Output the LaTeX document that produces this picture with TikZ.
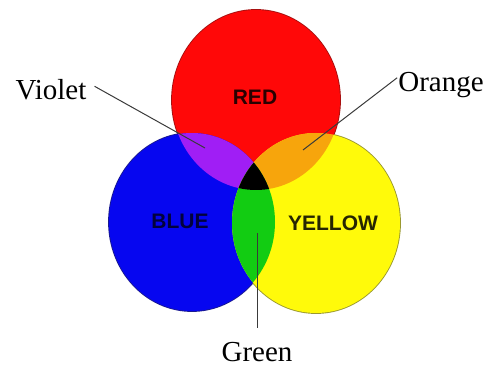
\documentclass[tikz,border=0pt]{standalone}
\usepackage{fontspec}
\setmainfont{Liberation Serif}
\newfontfamily\tagfont{Liberation Sans}
\usepackage{xcolor}
\usepackage{tikz}
\usetikzlibrary{positioning}
\definecolor{PrimRed}{HTML}{FF0808}
\definecolor{PrimBlue}{HTML}{0606F0}
\definecolor{PrimYellow}{HTML}{FFFA0A}
\definecolor{MixViolet}{HTML}{A01EF5}
\definecolor{MixOrange}{HTML}{F7A50C}
\definecolor{MixGreen}{HTML}{12CC12}
\definecolor{RedRim}{HTML}{A81010}
\definecolor{BlueRim}{HTML}{1A1A90}
\definecolor{YellowRim}{HTML}{9A9830}
\definecolor{LeadGray}{HTML}{3A3A3A}

\begin{document}
\begin{tikzpicture}[
    x=1pt, y=-1pt,
    callout/.style={inner sep=1pt, font=\fontsize{29}{30}\selectfont, text=black},
    tag/.style={inner sep=0pt, font=\tagfont\bfseries\fontsize{21}{21}\selectfont},
    leader/.style={line width=1pt, color=LeadGray},
    rim/.style={line width=1.8pt}
  ]
    \useasboundingbox (0,0) rectangle (493,366);

    % rims first, fills on top leave only the outer edge
    \draw[rim, draw=RedRim] (256,100) ellipse [x radius=84, y radius=90];
    \draw[rim, draw=BlueRim] (192,222) ellipse [x radius=83, y radius=89];
    \draw[rim, draw=YellowRim] (316,223) ellipse [x radius=84, y radius=90];
    \fill[PrimRed] (256,100) ellipse [x radius=84, y radius=90];
    \fill[PrimBlue] (192,222) ellipse [x radius=83, y radius=89];
    \fill[PrimYellow] (316,223) ellipse [x radius=84, y radius=90];

    \begin{scope}
      \clip (256,100) ellipse [x radius=84, y radius=90];
      \fill[MixViolet] (192,222) ellipse [x radius=83, y radius=89];
      \fill[MixOrange] (316,223) ellipse [x radius=84, y radius=90];
    \end{scope}
    \begin{scope}
      \clip (192,222) ellipse [x radius=83, y radius=89];
      \fill[MixGreen] (316,223) ellipse [x radius=84, y radius=90];
      \clip (316,223) ellipse [x radius=84, y radius=90];
      \fill[black] (256,100) ellipse [x radius=84, y radius=90];
    \end{scope}

    \node[tag, text=black!60!PrimRed!40!black] (redtag) at (255,97) {RED};
    \node[tag, text=PrimBlue!25!black] (bluetag) at (180,221) {BLUE};
    \node[tag, text=black!85!PrimYellow] (yellowtag) at (333,223) {YELLOW};

    \node[callout, anchor=base] (violet) at (51,100) {Violet};
    \node[callout, anchor=base] (orange) at (441,92) {Orange};
    \node[callout, anchor=base] (green) at (257,361) {Green};

    \coordinate (vend) at (205,148);
    \coordinate (oend) at (303,150);
    \coordinate (gend) at (257,233);

    \draw[leader, shorten <=8pt] (violet.12) -- (vend);
    \draw[leader] (orange.170) -- (oend);
    \draw[leader, shorten <=13pt] (green.north) -- (gend);
  \end{tikzpicture}
\end{document}
